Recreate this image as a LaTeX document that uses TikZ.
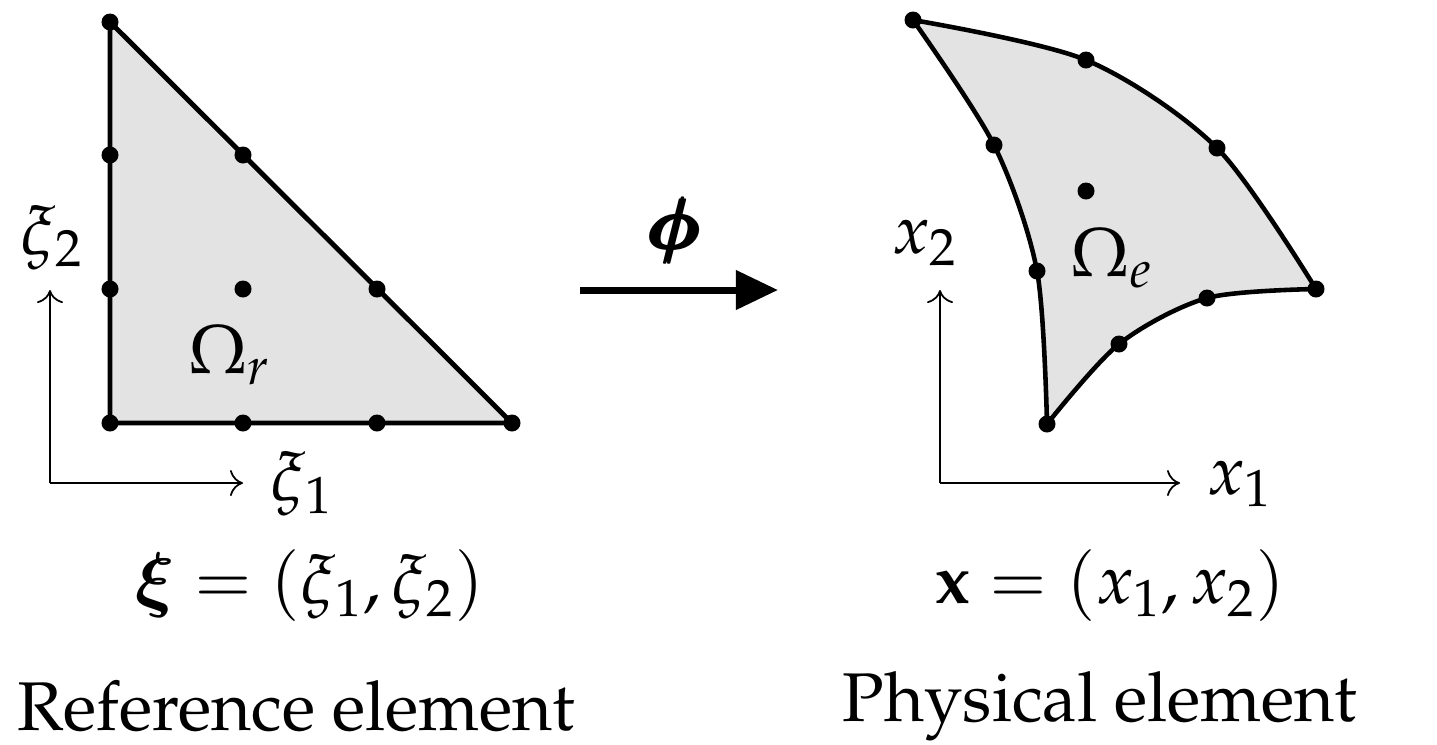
\documentclass[tikz,border=0pt]{standalone}
\usepackage[T1]{fontenc}
\usepackage{amsmath, bm}
\usepackage{mathpazo}
\usepackage{xcolor}
\definecolor{elemFill}{HTML}{E3E3E3}
\usepackage{tikz}
\usetikzlibrary{arrows.meta}
\tikzset{
  %% -- Elements --------------------------------------------------------
  bord/.style       = {draw=black, line width=1.4pt, fill=elemFill,
                       line join=round},
  noeud/.style      = {circle, fill=black, inner sep=0pt,
                       minimum size=0.17cm},
  %% -- Arrows ----------------------------------------------------------
  axe/.style        = {-{To[length=1.3mm, width=2.6mm]}, line width=0.5pt},
  application/.style = {-{Triangle[length=4.2mm, width=3.8mm]},
                       line width=2pt},
  %% -- Text ------------------------------------------------------------
  etiquette/.style  = {font=\fontsize{19.6}{24}\selectfont, inner sep=0pt},
}

\begin{document}
\begin{tikzpicture}[x=0.01cm, y=-0.01cm]
\useasboundingbox (0,0) rectangle (1437,744);

%% Reference element: straight-sided triangle.
\coordinate (r1) at (110,423);
\coordinate (r2) at (512,423);
\coordinate (r3) at (110,22);
\filldraw[bord] (r1) -- (r2) -- (r3) -- cycle;

\foreach \p/\n in {r1/a, r2/b, r3/c}
  \node[noeud] (rn\n) at (\p) {};
\foreach \x/\y/\n in {243/423/d, 377/423/e, 377/289/f, 243/155/g,
                      110/155/h, 110/289/i, 243/289/j}
  \node[noeud] (rn\n) at (\x,\y) {};

\node[etiquette] (omr) at (230,355) {$\Omega_r$};

%% Reference axes.
\coordinate (ro) at (50,483);
\coordinate (rx) at (243,483);
\coordinate (ry) at (50,290);
\draw[axe] (ro) -- (rx);
\draw[axe] (ro) -- (ry);
\node[etiquette] (xi1) at (302,484) {$\xi_1$};
\node[etiquette] (xi2) at (52,238) {$\xi_2$};

%% The mapping.
\coordinate (phiA) at (580,290);
\coordinate (phiB) at (778,290);
\draw[application] (phiA) -- (phiB);
\node[etiquette] (phi) at (675,230) {$\pmb{\bm{\phi}}$};

%% Physical element: curved-sided triangle.
\coordinate (pA) at (913,20);
\coordinate (pB) at (1316,289);
\coordinate (pC) at (1047,424);
\coordinate (p1) at (1086,60);
\coordinate (p2) at (1217,148);
\coordinate (p3) at (1207,298);
\coordinate (p4) at (1119,344);
\coordinate (p5) at (1037,271);
\coordinate (p6) at (994,145);
\filldraw[bord, line width=1.3pt]
  plot[smooth] coordinates {(pA) (p1) (p2) (pB)}
  -- plot[smooth] coordinates {(pB) (p3) (p4) (pC)}
  -- plot[smooth] coordinates {(pC) (p5) (p6) (pA)} -- cycle;

\foreach \p in {pA, pB, pC, p1, p2, p3, p4, p5, p6}
  \node[noeud] (n\p) at (\p) {};
\node[noeud] (pj) at (1086,191) {};

\node[etiquette] (ome) at (1112,258) {$\Omega_e$};

%% Physical axes.
\coordinate (po) at (940,483);
\coordinate (px) at (1180,483);
\coordinate (py) at (940,290);
\draw[axe] (po) -- (px);
\draw[axe] (po) -- (py);
\node[etiquette] (x1) at (1240,484) {$x_1$};
\node[etiquette] (x2) at (925,243) {$x_2$};

%% Captions.
\node[etiquette] (eqr) at (310,586) {$\bm{\xi} = (\xi_1, \xi_2)$};
\node[etiquette] (eqp) at (1110,586) {$\mathbf{x} = (x_1, x_2)$};
\node[etiquette] (capr) at (296,706) {Reference element};
\node[etiquette] (capp) at (1100,706) {Physical element};

\end{tikzpicture}
\end{document}
